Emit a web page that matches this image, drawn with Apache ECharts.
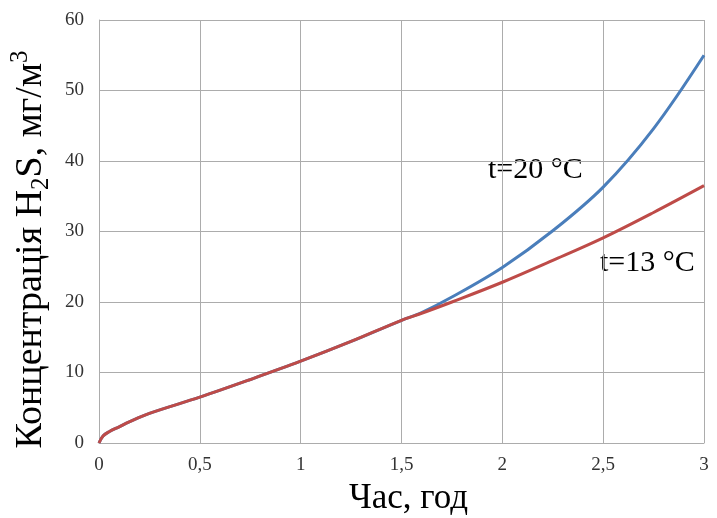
<!DOCTYPE html>
<html>
<head>
<meta charset="utf-8">
<script src="https://cdn.jsdelivr.net/npm/echarts@6/dist/echarts.min.js"></script>
<style>
html,body{margin:0;padding:0;background:#fff;}
#main{width:717px;height:518px;}
</style>
</head>
<body>
<div id="main"></div>
<script>
// час, год
var hours = [0, 0.02, 0.05, 0.1, 0.15, 0.25, 0.5, 0.75, 1, 1.25, 1.5, 1.6, 1.75, 2, 2.25, 2.5, 2.75, 3];
// t=13 °C
var red13 = [0, 1.0, 1.6, 2.3, 3.0, 4.2, 6.5, 9.0, 11.6, 14.4, 17.4, 18.4, 20.0, 22.8, 25.9, 29.1, 32.7, 36.5];
// t=20 °C
var blue20 = [0, 1.0, 1.6, 2.3, 3.0, 4.2, 6.5, 9.0, 11.6, 14.4, 17.4, 18.5, 20.7, 24.9, 30.1, 36.3, 44.6, 55.0];
var xTicks = [0, 0.5, 1, 1.5, 2, 2.5, 3];
var yTicks = [0, 10, 20, 30, 40, 50, 60];

function pairs(xs, ys){
    var out = [];
    for(var i=0;i<xs.length;i++){
        out.push([xs[i], ys[i]]);
    }
    return out;
}

var font = '"Liberation Serif", "Times New Roman", serif';
var myChart = echarts.init(document.getElementById('main'));
myChart.setOption({
    animation: false,
    grid: {left: 99, right: 13, top: 20, bottom: 75, outerBoundsMode: 'none'},
    xAxis: {
        type: 'value',
        min: xTicks[0],
        max: xTicks[xTicks.length-1],
        interval: 0.5,
        name: 'Час, год',
        nameLocation: 'middle',
        nameGap: 38,
        nameTextStyle: {fontFamily: font, fontSize: 35, color: '#000', padding: [0, 0, 0, 14]},
        axisLine: {lineStyle: {color: '#acacac'}},
        axisTick: {show: false},
        splitLine: {lineStyle: {color: '#acacac'}},
        axisLabel: {
            fontFamily: font, fontSize: 19, color: '#333', margin: 13,
            formatter: function(v){ return String(v).replace('.', ','); }
        }
    },
    yAxis: {
        type: 'value',
        min: yTicks[0],
        max: yTicks[yTicks.length-1],
        interval: 10,
        name: '{a|Концентрація H}{s|2}{a|S, мг/м}{p|3}',
        nameLocation: 'middle',
        nameGap: 45,
        nameTextStyle: {
            fontFamily: font, color: '#000',
            padding: [0, 36, 0, 0],
            rich: {
                a: {fontFamily: font, fontSize: 38, color: '#000', lineHeight: 46},
                s: {fontFamily: font, fontSize: 25, color: '#000', lineHeight: 46, verticalAlign: 'bottom', padding: [16, 0, 0, 0]},
                p: {fontFamily: font, fontSize: 25, color: '#000', lineHeight: 46, verticalAlign: 'top', padding: [0, 0, 12, 0]}
            }
        },
        axisLine: {show: true, lineStyle: {color: '#acacac'}},
        axisTick: {show: false},
        splitLine: {lineStyle: {color: '#acacac'}},
        axisLabel: {fontFamily: font, fontSize: 19, color: '#333', margin: 15}
    },
    series: [
        {
            name: 't=20 °C',
            type: 'line',
            smooth: 0.35,
            showSymbol: false,
            data: pairs(hours, blue20),
            lineStyle: {color: '#4a7ebb', width: 3},
            z: 2
        },
        {
            name: 't=13 °C',
            type: 'line',
            smooth: 0.35,
            showSymbol: false,
            data: pairs(hours, red13),
            lineStyle: {color: '#be4b48', width: 3},
            z: 3
        }
    ],
    graphic: [
        {type: 'text', left: 488, top: 155, style: {text: 't=20 °C', font: '30px ' + font, fill: '#000'}},
        {type: 'text', left: 600, top: 248, style: {text: 't=13 °C', font: '30px ' + font, fill: '#000'}}
    ]
});
</script>
</body>
</html>
